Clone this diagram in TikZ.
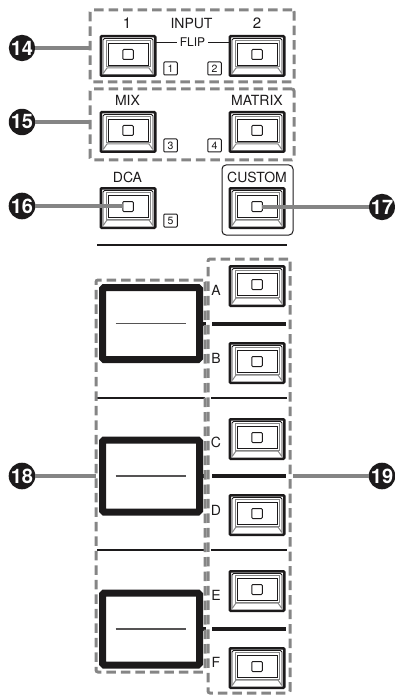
\documentclass[tikz,border=0pt]{standalone}
\usepackage{fontspec}
\setmainfont{TeX Gyre Heros}
\definecolor{dashgray}{HTML}{858585}
\definecolor{ink}{HTML}{1C1A1B}
\tikzset{
  x=1pt,y=-1pt,
  every node/.style={inner sep=0pt,outer sep=0pt},
  dashbox/.style={draw=dashgray,line width=3pt,dash pattern=on 9.5pt off 5pt,rounded corners=2pt},
  leader/.style={draw=dashgray,line width=3.2pt},
  callout/.style={circle,fill=ink,minimum size=26pt,text=white,font=\fontsize{20}{20}\selectfont\bfseries},
  label/.style={text=ink,font=\fontsize{14}{14}\selectfont},
  numbox/.style={draw=ink,line width=1pt,rounded corners=1pt,minimum width=13.5pt,minimum height=13pt,text=ink,font=\fontsize{10.5}{10.5}\selectfont},
  btnouter/.style={draw=ink,line width=2.5pt,rounded corners=1pt,minimum width=54.5pt,minimum height=39.5pt},
  btnsquare/.style={draw=ink,line width=1pt,rounded corners=1pt,minimum width=10.5pt,minimum height=10pt},
  screen/.style={draw=ink,line width=7pt,rounded corners=1.5pt,minimum width=97pt,minimum height=72pt},
  rule/.style={draw=ink,line width=1.5pt},
  boldrule/.style={draw=ink,line width=3.2pt},
  innerrule/.style={draw=ink!75,line width=1.2pt},
}
% name, left, top
\newcommand{\btn}[3]{%
  \node[btnouter] (#1) at (#2+28,#3+21) {};
  \draw[ink,line width=.8pt,rounded corners=1.5pt] (#2+3,#3+39) -- (#2+3,#3+3.5) -- (#2+53,#3+3.5) -- (#2+53,#3+39);
  \draw[dashgray,line width=1pt] (#2+3.5,#3+38) -- (#2+7,#3+33) -- (#2+49,#3+33) -- (#2+52.5,#3+38);
  \draw[dashgray,line width=1pt] (#2+6,#3+5.5) rectangle (#2+50,#3+32);
  \draw[ink,line width=.8pt] (#2+8,#3+8) rectangle (#2+48.5,#3+30);
  \node[btnsquare] (#1-sq) at (#2+28,#3+19.5) {};
}
\begin{document}
\begin{tikzpicture}
\useasboundingbox (0,0) rectangle (395,695);
% rules
\coordinate (r1a) at (97,245); \coordinate (r1b) at (287,245);
\draw[rule] (r1a) -- (r1b);
\foreach \yy in {398,550} {
  \draw[rule] (97,\yy) -- (205,\yy);
  \draw[rule] (211,\yy) -- (287,\yy);
}
\foreach \yy in {324,476,629} {
  \draw[boldrule] (212,\yy) -- (286,\yy);
  \draw[boldrule] (203,\yy) -- (206,\yy);
}
% dashed groups
\node[dashbox,minimum width=204pt,minimum height=72pt] (g14) at (192,46) {};
\node[dashbox,minimum width=204pt,minimum height=71pt] (g15) at (192,124.5) {};
\node[dashbox,minimum width=109pt,minimum height=392pt] (g18) at (150.5,476) {};
\node[dashbox,minimum width=82pt,minimum height=434pt] (g19) at (249,476) {};
% custom frame
\node[draw=ink,line width=1pt,rounded corners=4pt,minimum width=71pt,minimum height=70pt] (customframe) at (257.5,200) {};
% buttons
\btn{b1}{100}{35}
\btn{b2}{229}{35}
\btn{bmix}{100}{111}
\btn{bmatrix}{229}{111}
\btn{bdca}{100}{187}
\btn{bcustom}{229}{187}
\btn{ba}{229}{265}
\btn{bb}{229}{342}
\btn{bc}{229}{418}
\btn{bd}{229}{494}
\btn{be}{229}{570}
\btn{bf}{229}{647}
% screens
\node[screen] (s1) at (151,323.5) {};
\node[screen] (s2) at (151,476) {};
\node[screen] (s3) at (151,629) {};
\foreach \s in {s1,s2,s3} \draw[innerrule] ([xshift=13pt]\s.west) -- ([xshift=-14pt]\s.east);
% labels
\node[label,font=\fontsize{15}{15}\selectfont] (l1) at (127,23.5) {1};
\node[label,font=\fontsize{15}{15}\selectfont] (l2) at (257,23.5) {2};
\node[label] (linput) at (191.5,24) {INPUT};
\node[text=ink,font=\fontsize{12}{12}\selectfont] (lflip) at (192.5,42.5) {FLIP};
\draw[ink,line width=1.4pt] (b1.east |- lflip) -- ([xshift=-3pt]lflip.west);
\draw[ink,line width=1.4pt] ([xshift=3pt]lflip.east) -- (b2.west |- lflip);
\node[label] (lmix) at (127.5,100.5) {MIX};
\node[label] (lmatrix) at (257,100.5) {MATRIX};
\node[label] (ldca) at (127.5,177) {DCA};
\node[label] (lcustom) at (257,177) {CUSTOM};
\node[label] (la) at (216,290) {A};
\node[label] (lb) at (216,358) {B};
\node[label] (lc) at (216,442) {C};
\node[label] (ld) at (216,510) {D};
\node[label] (le) at (216,595) {E};
\node[label] (lf) at (216,662) {F};
% numbered squares
\node[numbox] (n1) at (170.5,68.5) {1};
\node[numbox] (n2) at (214.5,68.5) {2};
\node[numbox] (n3) at (170.5,145.5) {3};
\node[numbox] (n4) at (214.5,145.5) {4};
\node[numbox] (n5) at (170.5,220.5) {5};
% callouts
\node[callout] (c14) at (22,48) {14};
\node[callout] (c15) at (22,122) {15};
\node[callout] (c16) at (22,206) {16};
\node[callout] (c17) at (382,207) {17};
\node[callout] (c18) at (22,476) {18};
\node[callout] (c19) at (382,476) {19};
\draw[leader] (c14) -- (g14.west |- c14);
\draw[leader] (c15) -- (g15.west |- c15);
\draw[leader] (c16) -- (bdca-sq.west |- c16);
\draw[leader] (c17) -- (bcustom-sq.east |- c17);
\draw[leader] (c18) -- (g18.west |- c18);
\draw[leader] (c19) -- ([xshift=3pt]g19.east |- c19);
\end{tikzpicture}
\end{document}
